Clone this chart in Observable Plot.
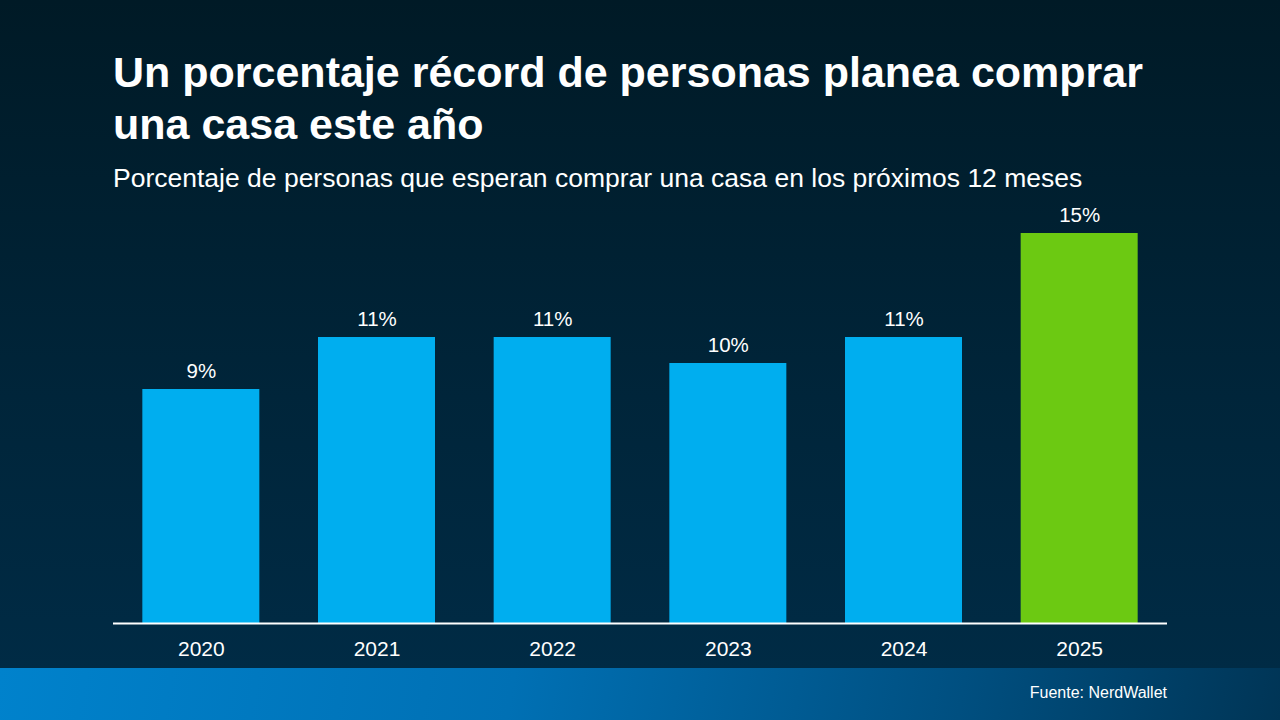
<!DOCTYPE html>
<html>
<head>
<meta charset="utf-8">
<script src="https://cdn.jsdelivr.net/npm/d3@7"></script>
<script src="https://cdn.jsdelivr.net/npm/@observablehq/plot@0.6"></script>
<style>
  html, body { margin: 0; padding: 0; }
  body { width: 1280px; height: 720px; overflow: hidden; font-family: "Liberation Sans", Arial, sans-serif; }
  #page { position: relative; width: 1280px; height: 720px;
    background: linear-gradient(180deg, #001a26 0%, #00253a 55%, #002b45 93%); }
  #title { position: absolute; left: 113px; top: 46px; width: 1050px; color: #fff;
    font-weight: bold; font-size: 43px; line-height: 52px; }
  #subtitle { position: absolute; left: 113px; top: 163px; color: #fff; font-size: 26.5px; line-height: 30px; white-space: nowrap; }
  #chart { position: absolute; left: 0; top: 200px; }
  #footer { position: absolute; left: 0; top: 668px; width: 1280px; height: 52px;
    background: linear-gradient(100deg, #0082cc 0%, #0070b4 40%, #004f80 75%, #003556 100%); }
  #source { position: absolute; right: 113px; top: 684px; color: #fff; font-size: 16px; }
</style>
</head>
<body>
<div id="page">
  <div id="title">Un porcentaje récord de personas planea comprar una casa este año</div>
  <div id="subtitle">Porcentaje de personas que esperan comprar una casa en los próximos 12 meses</div>
  <div id="chart"></div>
  <div id="footer"></div>
  <div id="source">Fuente: NerdWallet</div>
</div>
<script>
const years = ["2020", "2021", "2022", "2023", "2024", "2025"];
const values = [9, 11, 11, 10, 11, 15];
const labels = ["9%", "11%", "11%", "10%", "11%", "15%"];
const highlight = [false, false, false, false, false, true];

const data = years.map((y, i) => ({year: y, value: values[i], label: labels[i], hi: highlight[i]}));

const chart = Plot.plot({
  width: 1280,
  height: 468,
  marginLeft: 113,
  marginRight: 113,
  marginTop: 33,
  marginBottom: 45,
  style: {background: "transparent", color: "#fff", fontFamily: "Liberation Sans, Arial, sans-serif"},
  x: {domain: years, paddingInner: 0.334, paddingOuter: 0.167, round: false, label: null},
  y: {domain: [0, 15], axis: null},
  marks: [
    Plot.barY(data, {x: "year", y: "value", fill: d => d.hi ? "#6cc912" : "#00aeef"}),
    Plot.text(data, {x: "year", y: "value", text: "label", dy: -18, fill: "#fff", fontSize: 20.5, lineAnchor: "middle"}),
    Plot.ruleY([0], {stroke: "#fff", strokeWidth: 2}),
    Plot.axisX({tickSize: 0, tickPadding: 18, fontSize: 21, fill: "#fff", label: null})
  ]
});
document.getElementById("chart").appendChild(chart);
</script>
</body>
</html>
